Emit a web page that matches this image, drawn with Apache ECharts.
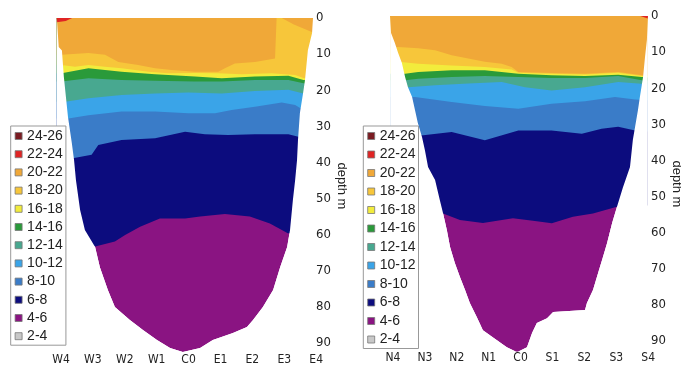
<!DOCTYPE html>
<html>
<head>
<meta charset="utf-8">
<script src="https://cdn.jsdelivr.net/npm/echarts@6/dist/echarts.min.js"></script>
<style>
  html, body { margin: 0; padding: 0; background: #fff; }
  #chart { width: 681px; height: 367px; }
</style>
</head>
<body>
<div id="chart"></div>
<script>
// temperature classes, legend order, and their colours
const classes = ['24-26', '22-24', '20-22', '18-20', '16-18', '14-16', '12-14', '10-12', '8-10', '6-8', '4-6', '2-4'];
const classColors = ['#7a1c22', '#e02424', '#f0a838', '#f7c63a', '#f2ec3c', '#2a9a3a', '#48a890', '#3aa4e8', '#3a7cc8', '#0c0c7e', '#8a1482', '#c8c8c8'];

const weStations = ['W4', 'W3', 'W2', 'W1', 'C0', 'E1', 'E2', 'E3', 'E4'];
const nsStations = ['N4', 'N3', 'N2', 'N1', 'C0', 'S1', 'S2', 'S3', 'S4'];
const depthTicks = [0, 10, 20, 30, 40, 50, 60, 70, 80, 90];

// W-E section: [station position, depth m]
const weBottom = [[-0.13, 0], [-0.07, 8], [0.03, 9], [0.09, 16.3], [0.22, 27.4], [0.34, 34.6], [0.41, 39.3], [0.47, 44.9], [0.6, 53.2], [0.75, 58.7], [1.07, 63.4], [1.22, 69], [1.47, 75.3], [1.69, 80], [2.16, 83.6], [2.57, 86.4], [3.01, 89.2], [3.42, 91.4], [3.82, 92.5], [4.36, 91.4], [4.76, 89.2], [5.39, 87.2], [5.83, 85.6], [6.02, 83.6], [6.33, 80], [6.65, 75.3], [6.87, 69], [7.09, 63.4], [7.18, 58.7], [7.27, 50.4], [7.34, 44.9], [7.4, 39.3], [7.43, 33.8], [7.49, 26.3], [7.59, 20.8], [7.65, 17.2], [7.74, 8.9], [7.87, 4.2], [7.9, 0]];
const we6_8 = [[-0.13, 63.3], [1.07, 63.3], [1.69, 61.9], [2.01, 60.1], [2.48, 57.8], [3.1, 55.5], [3.89, 55.5], [4.36, 55], [5.14, 54.3], [5.92, 55], [6.55, 56.9], [7.11, 59.6], [7.9, 60]];
const we8_10 = [[-0.13, 38.9], [0.33, 38.9], [0.96, 37.9], [1.17, 35.2], [1.9, 33.8], [2.95, 33.3], [3.89, 31.5], [4.51, 32.2], [5.24, 32.4], [6.08, 32.2], [7.13, 32.2], [7.44, 32.9], [7.9, 33]];
const we10_12 = [[-0.13, 27.8], [0.23, 27.8], [0.86, 26.9], [1.9, 25.9], [2.95, 25.9], [3.99, 26.4], [4.83, 26.4], [5.35, 25.5], [6.08, 24.6], [6.92, 23.4], [7.34, 24.1], [7.6, 25.5], [7.9, 25.5]];
const we12_14 = [[-0.13, 23.2], [0.13, 23.2], [0.86, 22.2], [1.9, 21.3], [2.95, 20.9], [3.99, 20.6], [5.04, 20.9], [6.08, 20.2], [7.13, 19.9], [7.6, 20.9], [7.9, 21]];
const we14_16 = [[-0.13, 17.6], [0.02, 17.6], [0.86, 16.7], [1.9, 17.2], [2.95, 17.4], [4.2, 17.6], [5.04, 17.6], [6.08, 17.2], [7.13, 17.2], [7.6, 18.1], [7.9, 18.3]];
const we16_18 = [[-0.13, 15.3], [0.02, 15.3], [0.86, 13.9], [1.9, 14.9], [2.95, 15.6], [4.2, 16.2], [5.04, 16.7], [6.08, 16.2], [7.13, 16], [7.6, 17.2], [7.9, 17.4]];
const we18_20 = [[-0.13, 13], [0.02, 13], [0.44, 13.5], [0.86, 13], [1.38, 13.5], [1.9, 13.9], [2.74, 14.9], [3.36, 15.3], [4.2, 15.2], [4.93, 15.3], [5.66, 15.6], [6.6, 15.3], [7.34, 15.8], [7.6, 16.6], [7.9, 16.8]];
const we20_22 = [[-0.13, 10.2], [0.02, 10.2], [0.86, 9.7], [1.38, 10.2], [1.8, 12.2], [2.42, 13], [2.95, 13.9], [3.47, 14.4], [4.2, 14.9], [4.93, 14.9], [5.14, 13.9], [5.45, 12.6], [6.08, 12.2], [6.71, 11.2], [6.76, 0], [6.92, 0], [7.3, 1.8], [7.9, 4]];
const we22_24 = [[-0.13, 1.2], [0.15, 0.8], [0.35, 0]];

// N-S section
const nsBottom = [[-0.09, 0], [-0.06, 4.7], [0.06, 7.5], [0.16, 10.2], [0.28, 13], [0.38, 16.9], [0.47, 19.7], [0.6, 22.4], [0.69, 26], [0.78, 29.6], [0.91, 33.5], [1.0, 37.1], [1.1, 41.8], [1.32, 45.4], [1.47, 51], [1.57, 54.6], [1.69, 59.3], [1.79, 64], [1.94, 68.4], [2.1, 72.3], [2.26, 75.9], [2.41, 79.5], [2.63, 83.4], [2.82, 87], [3.26, 89.8], [3.57, 91.7], [3.89, 93.1], [4.2, 91.7], [4.36, 87.8], [4.51, 85], [4.83, 83.7], [5.02, 82], [6.02, 81.4], [6.08, 79.5], [6.27, 75.9], [6.43, 71.2], [6.58, 66.8], [6.71, 62.9], [6.87, 57.3], [7.02, 52.9], [7.21, 47.4], [7.43, 41.8], [7.52, 34.3], [7.59, 30.7], [7.68, 26], [7.74, 22.4], [7.84, 16.9], [7.9, 11.4], [7.96, 6.6], [7.99, 0]];
const ns6_8 = [[-0.09, 54.7], [1.57, 54.7], [2.1, 56.5], [2.82, 57.3], [3.76, 56], [4.39, 56.7], [4.98, 57.4], [5.64, 55.6], [6.27, 54.7], [7.02, 52.8], [7.99, 52.5]];
const ns8_10 = [[-0.09, 33], [0.95, 33], [1.84, 32.1], [2.88, 34.4], [3.93, 31.7], [4.97, 31.7], [5.92, 32.6], [6.54, 31.2], [7.06, 30.7], [7.59, 31.7], [7.99, 32]];
const ns10_12 = [[-0.09, 22.4], [0.69, 22.4], [1.84, 23.8], [2.88, 24.9], [3.93, 25.7], [4.97, 24.3], [6.02, 23.6], [6.96, 22.4], [7.59, 23.1], [7.99, 23.3]];
const ns12_14 = [[-0.09, 19.7], [0.48, 19.7], [1.32, 19.2], [2.36, 18.7], [3.41, 18.3], [4.14, 19.7], [4.97, 20.6], [6.02, 19.7], [7.06, 18.3], [7.69, 18.7], [7.99, 18.9]];
const ns14_16 = [[-0.09, 17.8], [0.38, 17.8], [0.79, 17.4], [1.84, 16.9], [2.88, 16.6], [3.93, 16.9], [4.97, 17.2], [6.02, 17.2], [7.06, 16.6], [7.8, 17.8], [7.99, 18]];
const ns16_18 = [[-0.09, 16], [0.38, 16], [0.79, 15.5], [1.84, 15], [2.88, 15], [3.93, 16], [4.97, 16.4], [6.02, 16.6], [7.06, 16.3], [7.8, 16.9], [7.99, 17]];
const ns18_20 = [[-0.09, 12.7], [0.17, 12.7], [0.79, 13.2], [1.84, 13.7], [2.88, 14.1], [3.72, 14.8], [3.93, 15.7], [4.97, 16], [6.02, 16.2], [7.06, 15.7], [7.8, 16.6], [7.99, 16.8]];
const ns20_22 = [[-0.09, 8.6], [0.17, 8.6], [0.79, 8.9], [1.32, 9.5], [1.84, 10.9], [2.36, 11.8], [2.88, 12.7], [3.41, 13.2], [3.72, 14.1], [3.93, 15.5], [4.97, 15.8], [6.02, 16], [7.06, 15.5], [7.8, 16.4], [7.99, 16.6]];
const ns22_24 = [[7.75, 0], [7.99, 0.7]];

const chart = echarts.init(document.getElementById('chart'));

const pxPerStation = 31.9;
const pxPerMetre = 3.611;
const font = 'Liberation Sans, Arial, sans-serif';
const narrow = 'Liberation Sans Narrow, DejaVu Sans Condensed, Arial Narrow, sans-serif';

function colorOf(name) {
  return classColors[classes.indexOf(name)];
}

// every class fills from the surface down to its lower edge, deepest first
function sectionSeries(idx, layers, bottom) {
  const list = [];
  layers.forEach(function (l, i) {
    list.push({
      name: l[0],
      type: 'line',
      xAxisIndex: idx,
      yAxisIndex: idx,
      data: l[1],
      symbol: 'none',
      color: colorOf(l[0]),
      itemStyle: { color: colorOf(l[0]) },
      lineStyle: { width: 0 },
      areaStyle: { color: colorOf(l[0]), opacity: 1, origin: 'start' },
      z: 2 + i,
      silent: true
    });
  });
  // white below the lake bottom
  list.push({
    name: 'bottom',
    type: 'line',
    xAxisIndex: idx,
    yAxisIndex: idx,
    data: bottom,
    symbol: 'none',
    lineStyle: { width: 0 },
    areaStyle: { color: '#fff', opacity: 1, origin: 'end' },
    z: 20,
    silent: true
  });
  return list;
}

const weLayers = [['4-6', weBottom], ['6-8', we6_8], ['8-10', we8_10], ['10-12', we10_12], ['12-14', we12_14], ['14-16', we14_16], ['16-18', we16_18], ['18-20', we18_20], ['20-22', we20_22], ['22-24', we22_24]];
const nsLayers = [['4-6', nsBottom], ['6-8', ns6_8], ['8-10', ns8_10], ['10-12', ns10_12], ['12-14', ns12_14], ['14-16', ns14_16], ['16-18', ns16_18], ['18-20', ns18_20], ['20-22', ns20_22], ['22-24', ns22_24]];

// classes with no water in them still show in the legend
const emptySeries = ['24-26', '2-4'].map(function (n) {
  return { name: n, type: 'line', data: [], color: colorOf(n), itemStyle: { color: colorOf(n) } };
});

function xAxis(idx, stations, min, max) {
  return {
    gridIndex: idx,
    type: 'value',
    min: min,
    max: max,
    axisLine: { show: false },
    axisTick: { show: false },
    splitLine: { show: false },
    axisLabel: {
      customValues: [0, 1, 2, 3, 4, 5, 6, 7, 8],
      formatter: function (v) { return stations[Math.round(v)]; },
      margin: 0,
      fontSize: 12,
      fontFamily: narrow,
      color: '#222'
    }
  };
}

function yAxis(idx, gap) {
  return {
    gridIndex: idx,
    type: 'value',
    inverse: true,
    min: 0,
    max: 93,
    position: 'right',
    axisLine: { show: false },
    axisTick: { show: false },
    splitLine: { show: false },
    axisLabel: {
      customValues: depthTicks,
      margin: -5,
      fontSize: 13,
      fontFamily: narrow,
      color: '#222'
    },
    name: 'depth m',
    nameLocation: 'middle',
    nameRotate: -90,
    nameGap: gap,
    nameTextStyle: { fontSize: 13, fontFamily: font, color: '#222' }
  };
}

function legend(left, gap) {
  return {
    left: left,
    top: 126,
    orient: 'vertical',
    data: classes,
    icon: 'rect',
    itemWidth: 7,
    itemHeight: 7,
    itemGap: gap,
    padding: [3, 3, 2, 4],
    borderColor: '#999',
    borderWidth: 1,
    backgroundColor: '#fff',
    selectedMode: false,
    z: 50,
    itemStyle: { borderColor: '#777', borderWidth: 0.8 },
    textStyle: { fontSize: 14, lineHeight: 14, fontFamily: font, color: '#222' }
  };
}

const option = {
  animation: false,
  backgroundColor: '#fff',
  grid: [
    { left: 53, top: 18, width: 268, height: 93 * pxPerMetre, outerBoundsMode: 'none' },
    { left: 385, top: 16, width: 271, height: 93 * pxPerMetre, outerBoundsMode: 'none' }
  ],
  xAxis: [
    xAxis(0, weStations, -0.25, -0.25 + 268 / pxPerStation),
    xAxis(1, nsStations, -0.25, -0.25 + 271 / pxPerStation)
  ],
  yAxis: [yAxis(0, 12), yAxis(1, 13)],
  legend: [legend(10.7, 4.2), legend(363.3, 4.5)],
  series: sectionSeries(0, weLayers, weBottom)
    .concat(sectionSeries(1, nsLayers, nsBottom))
    .concat(emptySeries)
};

chart.setOption(option);
</script>
</body>
</html>
